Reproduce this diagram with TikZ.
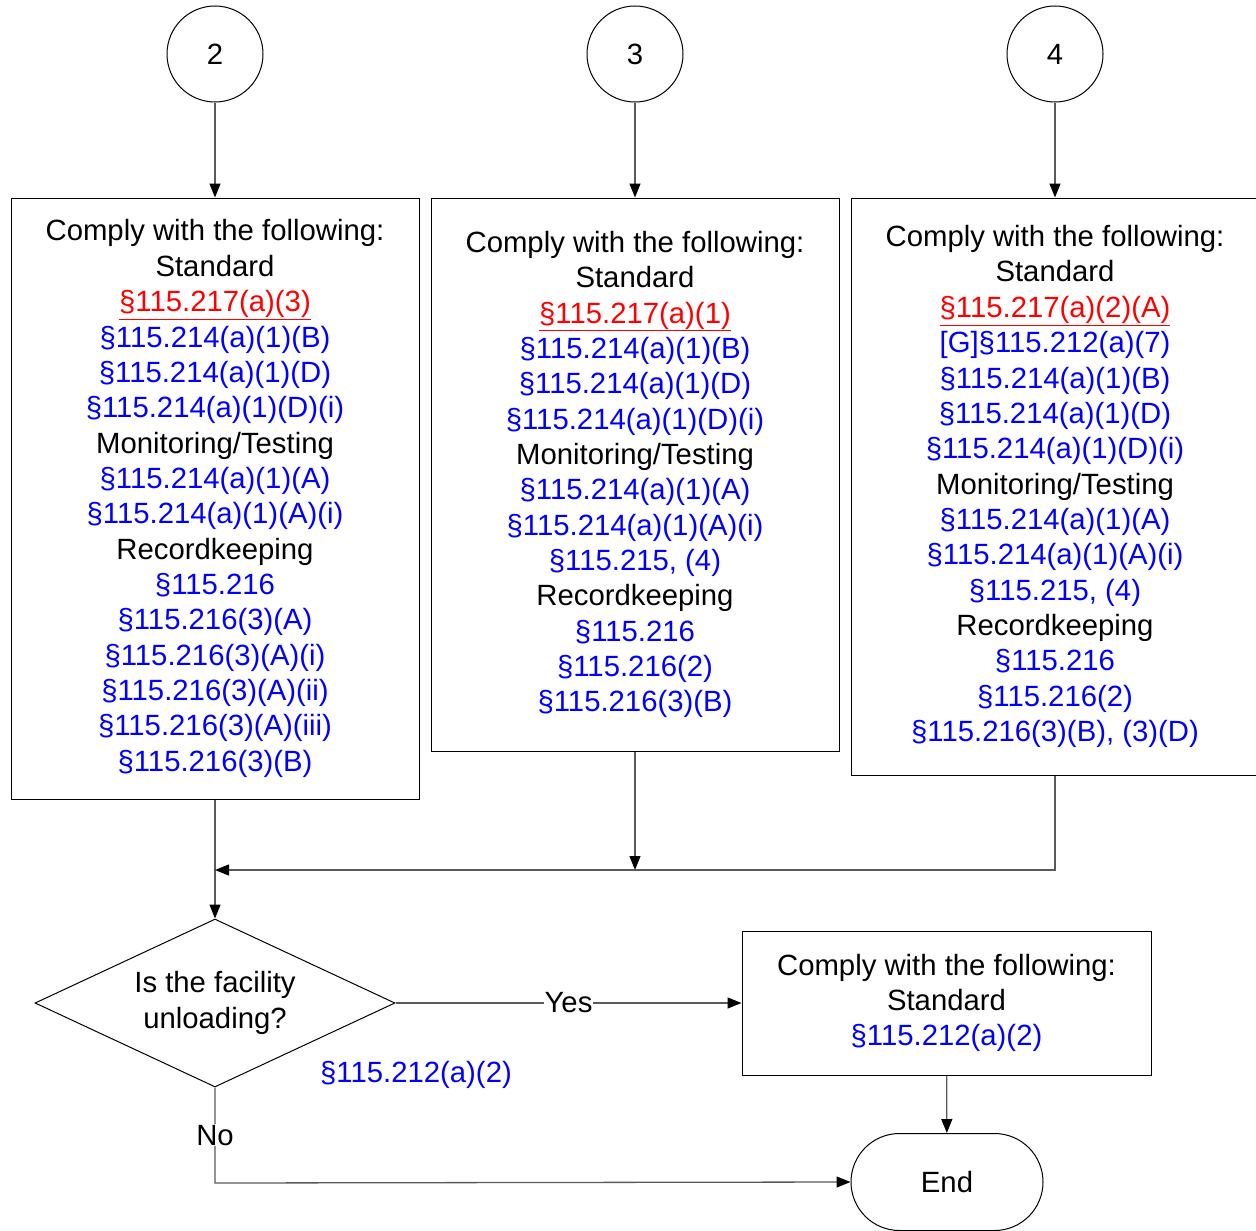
\documentclass[tikz,border=0pt]{standalone}
\usepackage{fontspec}
\setmainfont{Liberation Sans}
\usetikzlibrary{arrows.meta,shapes.geometric,shapes.misc}
\definecolor{refblue}{RGB}{0,0,255}
\definecolor{refred}{RGB}{255,0,0}
\definecolor{conn}{RGB}{90,90,90}
\newcommand{\bl}[1]{\textcolor{refblue}{#1}}
\newcommand{\rd}[1]{\textcolor{refred}{\underline{#1}}}
\begin{document}
\begin{tikzpicture}[x=1pt,y=-1pt,
  every node/.style={font=\fontsize{29.3}{35.35}\selectfont, inner sep=0pt},
  circ/.style={circle, draw=black, line width=1pt, minimum size=96pt},
  box/.style={rectangle, draw=black, line width=1pt, align=center, minimum width=408pt},
  conn/.style={draw=conn, line width=1.3pt},
  arr/.style={conn, -{Triangle[length=14pt,width=11pt]}, arrows={[fill=black,color=black]}},
  lbl/.style={fill=white, inner sep=1pt}
]
\useasboundingbox (0,0) rectangle (1256,1231);
\fill[white] (0,0) rectangle (1256,1231);

\node[circ] (c2) at (215,54) {2};
\node[circ] (c3) at (635,54) {3};
\node[circ] (c4) at (1055,54) {4};

\node[box, minimum height=601pt] (b1) at (215,498.5) {%
Comply with the following:\\
Standard\\
\rd{§115.217(a)(3)}\\
\bl{§115.214(a)(1)(B)}\\
\bl{§115.214(a)(1)(D)}\\
\bl{§115.214(a)(1)(D)(i)}\\
Monitoring/Testing\\
\bl{§115.214(a)(1)(A)}\\
\bl{§115.214(a)(1)(A)(i)}\\
Recordkeeping\\
\bl{§115.216}\\
\bl{§115.216(3)(A)}\\
\bl{§115.216(3)(A)(i)}\\
\bl{§115.216(3)(A)(ii)}\\
\bl{§115.216(3)(A)(iii)}\\
\bl{§115.216(3)(B)}};

\node[box, minimum height=553pt] (b2) at (635,474.5) {%
Comply with the following:\\
Standard\\
\rd{§115.217(a)(1)}\\
\bl{§115.214(a)(1)(B)}\\
\bl{§115.214(a)(1)(D)}\\
\bl{§115.214(a)(1)(D)(i)}\\
Monitoring/Testing\\
\bl{§115.214(a)(1)(A)}\\
\bl{§115.214(a)(1)(A)(i)}\\
\bl{§115.215, (4)}\\
Recordkeeping\\
\bl{§115.216}\\
\bl{§115.216(2)}\\
\bl{§115.216(3)(B)}};

\node[box, minimum height=577pt] (b3) at (1055,486.5) {%
Comply with the following:\\
Standard\\
\rd{§115.217(a)(2)(A)}\\
\bl{[G]§115.212(a)(7)}\\
\bl{§115.214(a)(1)(B)}\\
\bl{§115.214(a)(1)(D)}\\
\bl{§115.214(a)(1)(D)(i)}\\
Monitoring/Testing\\
\bl{§115.214(a)(1)(A)}\\
\bl{§115.214(a)(1)(A)(i)}\\
\bl{§115.215, (4)}\\
Recordkeeping\\
\bl{§115.216}\\
\bl{§115.216(2)}\\
\bl{§115.216(3)(B), (3)(D)}};

\node[diamond, draw=black, line width=1pt, aspect=2.14, minimum width=360pt, minimum height=168pt, align=center] (d) at (215,1003) {Is the facility\\unloading?};

\node[box, minimum width=409pt, minimum height=144pt] (b4) at (946.5,1003) {%
Comply with the following:\\
Standard\\
\bl{§115.212(a)(2)}};

\node[rounded rectangle, draw=black, line width=1pt, minimum width=192pt, minimum height=97pt] (end) at (947,1182) {End};

\node[text=refblue] (ref) at (416,1075) {§115.212(a)(2)};

\coordinate (m) at (215,870);
\coordinate (m3) at (1055,870);
\coordinate (m2) at (635,870);
\coordinate (nc) at (215,1183);

\draw[arr] (c2) -- (b1);
\draw[arr] (c3) -- (b2);
\draw[arr] (c4) -- (b3);
\draw[arr] (b1) -- (d);
\draw[arr] (b2) -- (m2);
\draw[arr] (b3.south -| m3) -- (m3) -- (m);
\draw[arr] (d.east) -- node[lbl, pos=0.5] (yes) {Yes} (b4.west);
\draw[arr] (b4) -- (end);
\draw[arr] (d.south) -- node[lbl, pos=0.5] (no) {No} (nc) -- (end.west);
\end{tikzpicture}
\end{document}
